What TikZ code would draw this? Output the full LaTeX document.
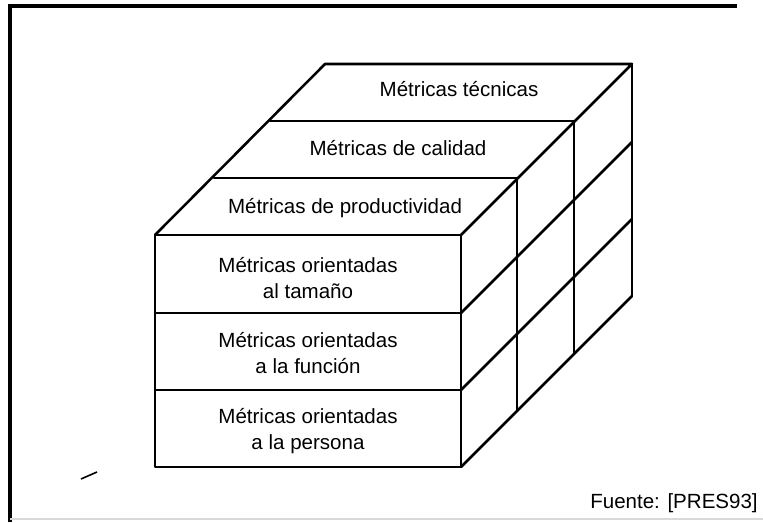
\documentclass[tikz,border=0pt]{standalone}
\usepackage{fontspec}
\setmainfont{Liberation Sans}
\begin{document}
\begin{tikzpicture}[x=0.75pt,y=-0.75pt,
  edge/.style={line width=1.9pt,line join=round,line cap=round},
  frame/.style={line width=2.3pt},
  lbl/.style={font=\fontsize{15.4}{19.5}\selectfont,align=center,inner sep=0pt}]
\useasboundingbox (0,0) rectangle (763,522);
% frame
\draw[frame] (10,522) -- (10,6) -- (737,6);
\draw[black!15,line width=0.8pt] (10,519) -- (763,519);
% corners of the cube
\coordinate (F0) at (155,235);
\coordinate (G0) at (461,235);
\coordinate (F1) at (214,178);
\coordinate (G1) at (517,178);
\coordinate (F2) at (270,121);
\coordinate (G2) at (574,121);
\coordinate (F3) at (325,64);
\coordinate (G3) at (632,64);
% front face
\draw[edge] (155,235) rectangle (461,467);
\draw[edge] (155,313) -- (461,313);
\draw[edge] (155,390) -- (461,390);
% top face
\draw[edge] (F0) -- (F3) -- (G3) -- (G0);
\draw[edge] (F1) -- (G1);
\draw[edge] (F2) -- (G2);
% right side verticals
\draw[edge] (G1) -- ++(0,232);
\draw[edge] (G2) -- ++(0,232);
\draw[edge] (G3) -- ++(0,232);
% right side diagonals
\draw[edge] (461,313) -- ++(171,-171);
\draw[edge] (461,390) -- ++(171,-171);
\draw[edge] (461,467) -- ++(171,-171);
% labels
\node[lbl] (t3) at (459,89) {Métricas técnicas};
\node[lbl] (t2) at (398,148) {Métricas de calidad};
\node[lbl] (t1) at (345,208) {Métricas de productividad};
\node[lbl] (r1) at (308,278) {Métricas orientadas\\al tamaño};
\node[lbl] (r2) at (308,353) {Métricas orientadas\\a la función};
\node[lbl] (r3) at (308,431) {Métricas orientadas\\a la persona};
\node[lbl] (src) at (674,503) {Fuente: [PRES93]};
% stray mark
\draw[line width=1.2pt] (81,479) -- (97,472);
\end{tikzpicture}
\end{document}
